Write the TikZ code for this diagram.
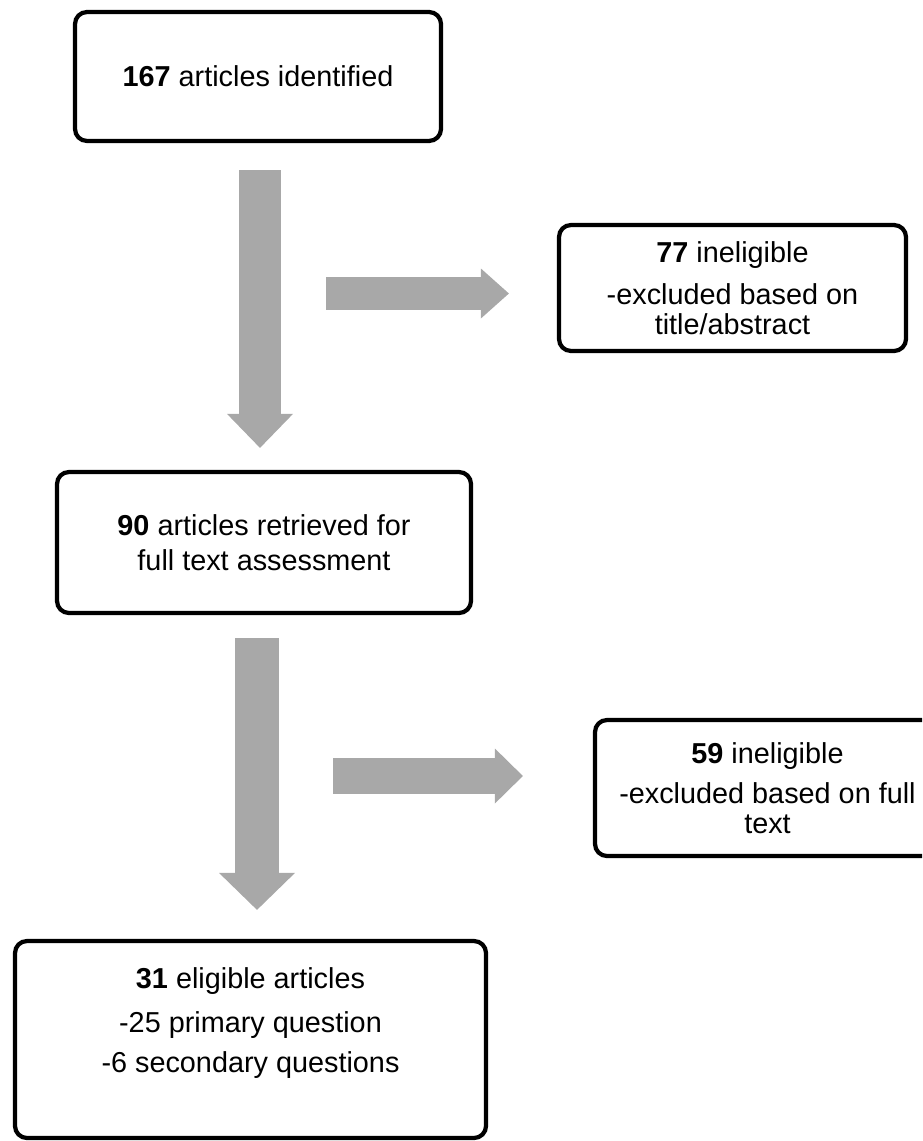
\documentclass[tikz,border=0pt]{standalone}
\usepackage{fontspec}
\setmainfont{Liberation Sans}
\usetikzlibrary{arrows.meta,positioning}
\definecolor{arrowgray}{RGB}{168,168,168}

\begin{document}
\begin{tikzpicture}[
  box/.style = {draw, line width=3pt, rounded corners=0.3cm, align=center, font=\fontsize{20.5pt}{21.3pt}\selectfont},
  txt/.style = {inner sep=0pt, align=center, font=\fontsize{20.5pt}{21.3pt}\selectfont},
  flow/.style = {draw=arrowgray}
]
\useasboundingbox (0,0) rectangle (23.05,-28.525);
\clip (0,0) rectangle (23.05,-28.525);

\node[box, minimum width=9.15cm, minimum height=3.225cm] (ident) at (6.45,-1.9125) {\textbf{167} articles identified};
\node[box, minimum width=8.675cm, minimum height=3.15cm] (inelig1) at (18.3125,-7.2) {\textbf{77} ineligible\\[8.5pt] -excluded based on\\ title/abstract};
\node[box, minimum width=10.35cm, minimum height=3.525cm] (fulltext) at (6.6,-13.5625) {\textbf{90} articles retrieved for\\[3.6pt] full text assessment};
\node[box, minimum width=8.625cm, minimum height=3.4cm] (inelig2) at (19.1875,-19.7) {\textbf{59} ineligible\\[7pt] -excluded based on full\\ text};
\node[box, minimum width=11.775cm, minimum height=4.925cm] (elig) at (6.2625,-25.9875) {};
\node[txt, below=0.7cm of elig.north] (eligtext) {\textbf{31} eligible articles\\[10pt] -25 primary question\\[7.8pt] -6 secondary questions};

\coordinate (skip1) at (8.15,-7.3375);
\coordinate (skip2) at (8.325,-19.4);

\draw [flow, line width=1.05cm, shorten <=0.675cm, shorten >=0.55cm, -{Triangle[width=1.65cm, length=0.85cm, line width=0pt]}] ([xshift=0.05cm]ident.south) -- ([xshift=0.05cm]ident.south |- fulltext.north);
\draw [flow, line width=0.825cm, shorten >=1.2cm, -{Triangle[width=1.25cm, length=0.7cm, line width=0pt]}] (skip1) -- (skip1 -| inelig1.west);

\draw [flow, line width=1.1cm, shorten <=0.575cm, shorten >=0.725cm, -{Triangle[width=1.9cm, length=0.925cm, line width=0pt]}] ([xshift=-0.175cm]fulltext.south) -- ([xshift=-0.175cm]fulltext.south |- elig.north);
\draw [flow, line width=0.9cm, shorten >=1.75cm, -{Triangle[width=1.375cm, length=0.7cm, line width=0pt]}] (skip2) -- (skip2 -| inelig2.west);
\end{tikzpicture}
\end{document}
